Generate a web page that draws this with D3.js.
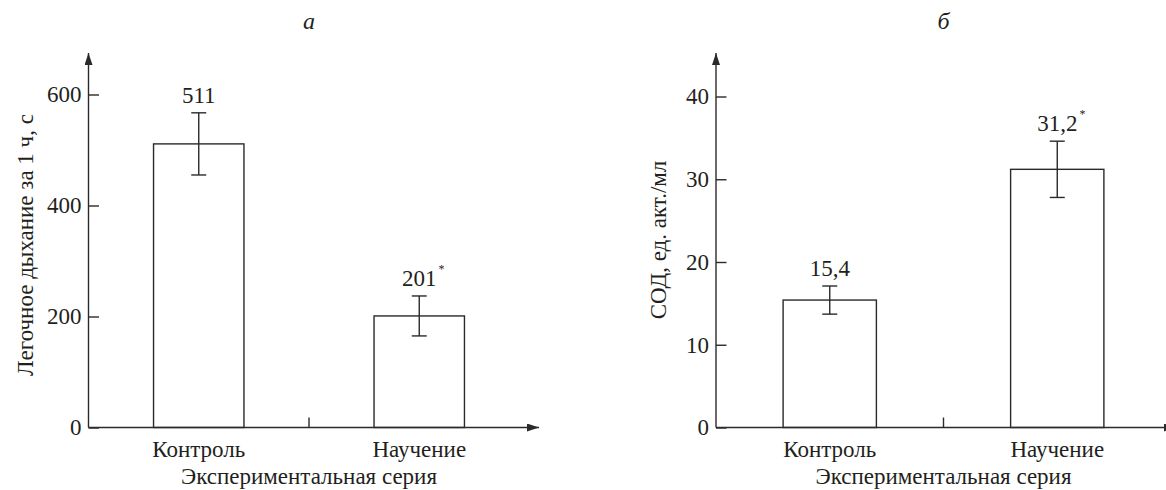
<!DOCTYPE html>
<html lang="ru">
<head>
<meta charset="UTF-8">
<title>Легочное дыхание и СОД</title>
<script src="https://d3js.org/d3.v7.min.js"></script>
<style>
    body { margin: 0; background: #fff; }
    svg text { font-family: "Liberation Serif", "DejaVu Serif", serif; fill: #231f20; }
</style>
</head>
<body>
<div id="chart"></div>
<script>
// data
const categories = ["Контроль", "Научение"];
const panelLetters = ["а", "б"];
const xTitle = "Экспериментальная серия";

const breathTitle = "Легочное дыхание за 1 ч, с";
const breathMeans = [511, 201];
const breathErrors = [56, 36];
const breathSignif = [false, true];
const breathTicks = [0, 200, 400, 600];

const sodTitle = "СОД, ед. акт./мл";
const sodMeans = [15.4, 31.2];
const sodErrors = [1.7, 3.4];
const sodSignif = [false, true];
const sodTicks = [0, 10, 20, 30, 40];

const W = 1166, H = 490;
const ink = "#2a2a2a";
const fontSize = "23px";

const svg = d3.select("#chart").append("svg")
    .attr("width", W).attr("height", H);

const defs = svg.append("defs");
defs.append("marker")
    .attr("id", "arrow")
    .attr("viewBox", "0 0 12 8")
    .attr("refX", 12).attr("refY", 4)
    .attr("markerWidth", 12).attr("markerHeight", 8)
    .attr("markerUnits", "userSpaceOnUse")
    .attr("orient", "auto")
    .append("path")
    .attr("d", "M0,0 L12,4 L0,8 Z")
    .attr("fill", ink);

function fmt(v) {
    return String(v).replace(".", ",");
}

function drawPanel(p) {
    const g = svg.append("g");

    const x = d3.scaleBand()
        .domain(categories)
        .range([p.x0, p.x1])
        .paddingInner(0.59)
        .paddingOuter(0.295);

    const y = d3.scaleLinear()
        .domain([0, d3.max(p.ticks)])
        .range([p.yBase, p.yTop]);

    const rows = categories.map((c, i) => ({
        cat: c, mean: p.means[i], err: p.errors[i], star: p.signif[i]
    }));

    // bars
    g.selectAll(".bar")
        .data(rows)
        .enter().append("rect")
        .attr("class", "bar")
        .attr("x", d => x(d.cat))
        .attr("y", d => y(d.mean))
        .attr("width", x.bandwidth())
        .attr("height", d => y(0) - y(d.mean))
        .attr("fill", "#fff")
        .attr("stroke", ink)
        .attr("stroke-width", 1.4);

    // error bars
    const cx = d => x(d.cat) + x.bandwidth() / 2;
    const cap = 7.5;
    const eb = g.selectAll(".err").data(rows).enter().append("g").attr("class", "err")
        .attr("stroke", ink).attr("stroke-width", 1.4);
    eb.append("line")
        .attr("x1", cx).attr("x2", cx)
        .attr("y1", d => y(d.mean - d.err)).attr("y2", d => y(d.mean + d.err));
    eb.append("line")
        .attr("x1", d => cx(d) - cap).attr("x2", d => cx(d) + cap)
        .attr("y1", d => y(d.mean + d.err)).attr("y2", d => y(d.mean + d.err));
    eb.append("line")
        .attr("x1", d => cx(d) - cap).attr("x2", d => cx(d) + cap)
        .attr("y1", d => y(d.mean - d.err)).attr("y2", d => y(d.mean - d.err));

    // value labels
    rows.forEach(d => {
        const t = g.append("text")
            .attr("x", cx(d))
            .attr("y", y(d.mean + d.err) - 10)
            .attr("text-anchor", "middle")
            .style("font-size", fontSize)
            .text(fmt(d.mean));
        if (d.star) {
            const w = t.node().getComputedTextLength();
            g.append("text")
                .attr("x", cx(d) + w / 2 + 2)
                .attr("y", y(d.mean + d.err) - 23)
                .style("font-size", "12px")
                .text("*");
        }
    });

    // y axis: ticks pointing inward, domain drawn separately with arrow
    const yAxis = g.append("g")
        .attr("transform", `translate(${p.x0},0)`)
        .call(d3.axisLeft(y).tickValues(p.ticks).tickSize(-10.5).tickPadding(7).tickFormat(fmt));
    yAxis.select(".domain").remove();
    yAxis.selectAll(".tick line").attr("stroke", ink).attr("stroke-width", 1.4);
    yAxis.selectAll(".tick text")
        .style("font-size", fontSize)
        .attr("fill", "#231f20")
        .style("font-family", "'Liberation Serif', serif");

    g.append("line")
        .attr("x1", p.x0).attr("x2", p.x0)
        .attr("y1", y(0)).attr("y2", p.yArrow)
        .attr("stroke", ink).attr("stroke-width", 1.4)
        .attr("marker-end", "url(#arrow)");

    // x axis: category labels, no ticks
    const xAxis = g.append("g")
        .attr("transform", `translate(0,${y(0)})`)
        .call(d3.axisBottom(x).tickSize(0).tickPadding(13));
    xAxis.select(".domain").remove();
    xAxis.selectAll(".tick text")
        .style("font-size", fontSize)
        .attr("fill", "#231f20")
        .style("font-family", "'Liberation Serif', serif");

    g.append("line")
        .attr("x1", p.x0).attr("x2", p.xArrow)
        .attr("y1", y(0)).attr("y2", y(0))
        .attr("stroke", ink).attr("stroke-width", 1.4)
        .attr("marker-end", "url(#arrow)");

    // small separator tick between the two groups
    const mid = x(categories[0]) + x.bandwidth() + x.step() * x.paddingInner() / 2;
    g.append("line")
        .attr("x1", mid).attr("x2", mid)
        .attr("y1", y(0)).attr("y2", y(0) - 10)
        .attr("stroke", ink).attr("stroke-width", 1.4);

    // axis titles
    g.append("text")
        .attr("x", mid)
        .attr("y", p.xTitleY)
        .attr("text-anchor", "middle")
        .style("font-size", fontSize)
        .text(xTitle);

    g.append("text")
        .attr("transform", `translate(${p.yTitleX},${p.yTitleMid}) rotate(-90)`)
        .attr("text-anchor", "middle")
        .style("font-size", fontSize)
        .text(p.title);

    // panel letter
    g.append("text")
        .attr("x", mid)
        .attr("y", 29)
        .attr("text-anchor", "middle")
        .style("font-size", "24px")
        .style("font-style", "italic")
        .text(p.letter);
}

drawPanel({
    means: breathMeans, errors: breathErrors, signif: breathSignif, ticks: breathTicks,
    title: breathTitle, letter: panelLetters[0],
    x0: 88.5, x1: 529.5, xArrow: 539,
    yBase: 427.5, yTop: 94.5, yArrow: 53,
    xTitleY: 484, yTitleX: 33, yTitleMid: 245
});

drawPanel({
    means: sodMeans, errors: sodErrors, signif: sodSignif, ticks: sodTicks,
    title: sodTitle, letter: panelLetters[1],
    x0: 716, x1: 1171, xArrow: 1176,
    yBase: 427.5, yTop: 96.5, yArrow: 53,
    xTitleY: 484, yTitleX: 666, yTitleMid: 240
});
</script>
</body>
</html>
